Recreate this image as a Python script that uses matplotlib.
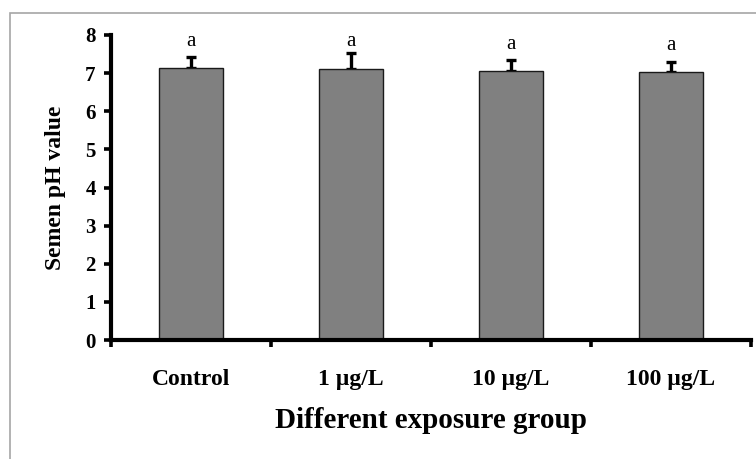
import matplotlib.pyplot as plt
from matplotlib.patches import Rectangle

groups = ['Control', '1 µg/L', '10 µg/L', '100 µg/L']
ph_mean = [7.13, 7.10, 7.06, 7.03]
ph_err = [0.29, 0.42, 0.28, 0.27]
letters = ['a', 'a', 'a', 'a']
letter_y = [7.84, 7.84, 7.76, 7.72]

plt.rcParams['font.family'] = ['Liberation Serif', 'DejaVu Serif']

fig = plt.figure(figsize=(7.56, 4.59), dpi=100)

# grey frame around the chart (right and bottom edges fall outside the image)
frame = Rectangle((10 / 756, -0.1), 1.1, (459 - 13) / 459 + 0.1, transform=fig.transFigure,
                  fill=False, edgecolor='#a6a6a6', linewidth=1.2)
fig.patches.append(frame)

ax = fig.add_axes([111 / 756, 119 / 459, 640 / 756, 305 / 459])

x = range(len(groups))
ax.bar(x, ph_mean, width=0.4, color='#808080', edgecolor='#1a1a1a', linewidth=1, zorder=2)
ax.errorbar(x, ph_mean, yerr=[[0] * len(ph_err), ph_err], fmt='none', ecolor='black',
            elinewidth=2.4, capsize=3.5, capthick=2.4, zorder=1)

for i, lab in enumerate(letters):
    ax.text(i, letter_y[i], lab, ha='center', va='center', fontsize=15)

ax.set_xlim(-0.5, 3.5)
ax.set_ylim(0, 8)
ax.set_yticks(range(0, 9))
ax.set_xticks(list(x))
ax.set_xticklabels(groups, fontsize=17, fontweight='bold')
ax.set_xticks([-0.5, 0.5, 1.5, 2.5, 3.5], minor=True)
ax.tick_params(axis='x', which='major', length=0, pad=21)
ax.tick_params(axis='x', which='minor', direction='out', length=5, width=2.6)
ax.tick_params(axis='y', direction='out', length=5, width=2.6, labelsize=15, pad=6)
for t in ax.get_yticklabels():
    t.set_fontweight('bold')

for s in ['top', 'right']:
    ax.spines[s].set_visible(False)
for s in ['left', 'bottom']:
    ax.spines[s].set_linewidth(3)

ax.set_ylabel('Semen pH value', fontsize=17, fontweight='bold', labelpad=14)
ax.set_xlabel('Different exposure group', fontsize=21, fontweight='bold', labelpad=12)

fig.savefig('out.png', dpi=100)
